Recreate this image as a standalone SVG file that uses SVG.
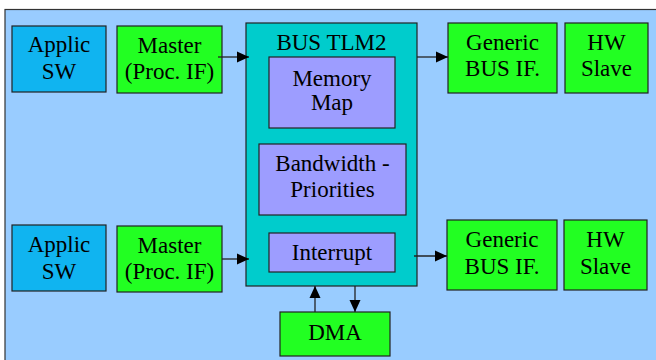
<svg xmlns="http://www.w3.org/2000/svg" width="656" height="360" viewBox="0 0 656 360">
  <defs>
    <marker id="arrow" viewBox="0 0 12 12" refX="12" refY="6" markerWidth="12" markerHeight="12" markerUnits="userSpaceOnUse" orient="auto">
      <path d="M0,0.5 L12,6 L0,11.5 Z" fill="#000"/>
    </marker>
    <style>
      .box { stroke: #222; stroke-width: 1.2; }
      .sw { fill: #10b4f0; }
      .hw { fill: #22ff22; }
      .bus { fill: #00cccc; }
      .blk { fill: #9d9dff; }
      text { font-family: "Liberation Serif", "Times New Roman", serif; font-size: 23px; fill: #000; text-anchor: middle; }
      .conn line { stroke: #222; stroke-width: 1.3; marker-end: url(#arrow); }
    </style>
  </defs>

  <rect x="0" y="0" width="656" height="360" fill="#fff"/>
  <rect x="5" y="9.5" width="660" height="360" fill="#99ccff" stroke="#333" stroke-width="1.2"/>

  <!-- upper row -->
  <g id="applic-sw-1">
    <rect class="box sw" x="12" y="26" width="94" height="66"/>
    <text x="59" y="52">Applic</text>
    <text x="59" y="79">SW</text>
  </g>
  <g id="master-1">
    <rect class="box hw" x="117" y="26" width="105" height="67"/>
    <text x="169.5" y="53">Master</text>
    <text x="169.5" y="79">(Proc. IF)</text>
  </g>

  <!-- bus -->
  <g id="bus-tlm2">
    <rect class="box bus" x="246" y="23" width="171" height="263"/>
    <text x="331.5" y="50">BUS TLM2</text>
  </g>
  <g id="memory-map">
    <rect class="box blk" x="269" y="57" width="126" height="71"/>
    <text x="332" y="86">Memory</text>
    <text x="332" y="110">Map</text>
  </g>
  <g id="bandwidth">
    <rect class="box blk" x="259" y="144" width="147" height="71"/>
    <text x="332.5" y="171">Bandwidth -</text>
    <text x="332.5" y="197">Priorities</text>
  </g>
  <g id="interrupt">
    <rect class="box blk" x="269" y="233" width="126" height="39"/>
    <text x="332" y="260">Interrupt</text>
  </g>

  <g id="generic-bus-if-1">
    <rect class="box hw" x="448" y="23" width="109" height="70"/>
    <text x="502.5" y="50">Generic</text>
    <text x="502.5" y="76">BUS IF.</text>
  </g>
  <g id="hw-slave-1">
    <rect class="box hw" x="565" y="23" width="83" height="70"/>
    <text x="606.5" y="50">HW</text>
    <text x="606.5" y="76">Slave</text>
  </g>

  <!-- lower row -->
  <g id="applic-sw-2">
    <rect class="box sw" x="12" y="225" width="94" height="66"/>
    <text x="59" y="252">Applic</text>
    <text x="59" y="279">SW</text>
  </g>
  <g id="master-2">
    <rect class="box hw" x="117" y="226" width="105" height="66"/>
    <text x="169.5" y="253">Master</text>
    <text x="169.5" y="279">(Proc. IF)</text>
  </g>
  <g id="generic-bus-if-2">
    <rect class="box hw" x="447" y="220" width="110" height="70"/>
    <text x="502" y="247">Generic</text>
    <text x="502" y="274">BUS IF.</text>
  </g>
  <g id="hw-slave-2">
    <rect class="box hw" x="564" y="220" width="83" height="70"/>
    <text x="605.5" y="247">HW</text>
    <text x="605.5" y="274">Slave</text>
  </g>

  <g id="dma">
    <rect class="box hw" x="280" y="312" width="110" height="44"/>
    <text x="335" y="340">DMA</text>
  </g>

  <!-- connectors -->
  <g class="conn" id="connectors">
    <line x1="218" y1="57" x2="249" y2="57"/>
    <line x1="417" y1="57" x2="448" y2="57"/>
    <line x1="222" y1="259" x2="249" y2="259"/>
    <line x1="414" y1="256" x2="447" y2="256"/>
    <line x1="315" y1="312" x2="315" y2="286"/>
    <line x1="355" y1="286" x2="355" y2="312"/>
  </g>
</svg>
